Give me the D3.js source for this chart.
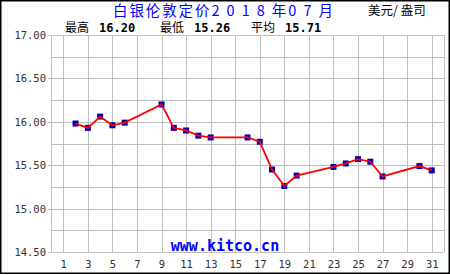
<!DOCTYPE html>
<html>
<head>
<meta charset="utf-8">
<script src="https://cdn.jsdelivr.net/npm/d3@7"></script>
<style>
  body { margin: 0; background: #fff; }
  svg { display: block; }
</style>
</head>
<body>
<div id="chart"></div>
<script>
// silver London fix, July 2018 (USD / oz)
const days = [2, 3, 4, 5, 6, 9, 10, 11, 12, 13, 16, 17, 18, 19, 20, 23, 24, 25, 26, 27, 30, 31];
const prices = [15.98, 15.93, 16.06, 15.96, 15.99, 16.20, 15.93, 15.90, 15.84, 15.82, 15.82,
  15.77, 15.45, 15.26, 15.38, 15.48, 15.52, 15.57, 15.54, 15.37, 15.49, 15.44];
const xTicks = d3.range(1, 32, 2);
const yTicks = [14.5, 15, 15.5, 16, 16.5, 17];
const yGrid = d3.range(14.5, 17.01, 0.25);

const title = '白银伦敦定价2 0 1 8 年0 7 月';
const unit = '美元/ 盎司';
const statLabels = ['最高', '最低', '平均'];

const width = 450;
const height = 275;
const mono = '"DejaVu Sans Mono", "Liberation Mono", monospace';
const cjk = '"Noto Sans CJK SC", sans-serif';

const svg = d3.select('#chart').append('svg')
  .attr('width', width)
  .attr('height', height);

const x = d3.scaleLinear().domain([0, 32]).range([51, 444]);
const y = d3.scaleLinear().domain([14.5, 17]).range([252, 35]);

// outer frame
svg.append('rect')
  .attr('x', 0.75).attr('y', 0.75)
  .attr('width', width - 1.5).attr('height', height - 2.5)
  .attr('fill', '#fff')
  .attr('stroke', '#000')
  .attr('stroke-width', 1.5);

// grid
const grid = svg.append('g').attr('stroke', '#c0c0c0').attr('stroke-width', 1);
grid.selectAll('line.h').data(yGrid).join('line')
  .attr('class', 'h')
  .attr('x1', x(0)).attr('x2', x(32))
  .attr('y1', d => Math.round(y(d)) + 0.5).attr('y2', d => Math.round(y(d)) + 0.5);
grid.selectAll('line.v').data(xTicks.concat([0, 32])).join('line')
  .attr('class', 'v')
  .attr('y1', y(17)).attr('y2', y(14.5))
  .attr('x1', d => Math.round(x(d)) + 0.5).attr('x2', d => Math.round(x(d)) + 0.5);
grid.selectAll('line.t').data(yTicks).join('line')
  .attr('class', 't')
  .attr('x1', x(0) - 3).attr('x2', x(0))
  .attr('y1', d => Math.round(y(d)) + 0.5).attr('y2', d => Math.round(y(d)) + 0.5);

// axis labels
svg.append('g').selectAll('text').data(yTicks).join('text')
  .attr('x', 46)
  .attr('y', d => y(d) + 4)
  .attr('text-anchor', 'end')
  .attr('font-family', mono)
  .attr('font-size', 10.5)
  .attr('fill', '#333')
  .text(d => d3.format('.2f')(d));

svg.append('g').selectAll('text').data(xTicks).join('text')
  .attr('x', d => x(d) + 0.5)
  .attr('y', 268)
  .attr('text-anchor', 'middle')
  .attr('font-family', mono)
  .attr('font-size', 10.5)
  .attr('fill', '#333')
  .text(d => d);

// watermark
svg.append('text')
  .attr('x', 225)
  .attr('y', 251)
  .attr('text-anchor', 'middle')
  .attr('font-family', mono)
  .attr('font-weight', 'bold')
  .attr('font-size', 15)
  .attr('fill', '#0000ff')
  .text('www.kitco.cn');

// title + unit
svg.append('text')
  .attr('x', 113)
  .attr('y', 15.5)
  .attr('font-family', cjk)
  .attr('font-size', 14.5)
  .attr('fill', '#0000ff')
  .attr('textLength', 220)
  .attr('lengthAdjust', 'spacing')
  .text(title);

svg.append('text')
  .attr('x', 368)
  .attr('y', 15)
  .attr('font-family', cjk)
  .attr('font-size', 12.5)
  .attr('fill', '#000')
  .text(unit);

// stats line
const stats = [d3.max(prices), d3.min(prices), d3.mean(prices)];
const statX = [65, 160, 251];
statLabels.forEach((label, i) => {
  svg.append('text')
    .attr('x', statX[i]).attr('y', 31.5)
    .attr('font-family', cjk)
    .attr('font-size', 12)
    .text(label);
  svg.append('text')
    .attr('x', statX[i] + 34).attr('y', 31.5)
    .attr('font-family', mono)
    .attr('font-weight', 'bold')
    .attr('font-size', 12)
    .text(stats[i].toFixed(2));
});

// series
const pts = days.map((d, i) => [x(d), y(prices[i])]);

svg.append('g').selectAll('rect').data(pts).join('rect')
  .attr('x', d => d[0] - 3)
  .attr('y', d => d[1] - 3)
  .attr('width', 6)
  .attr('height', 6)
  .attr('fill', '#0000b0');

svg.append('path')
  .attr('d', d3.line()(pts))
  .attr('fill', 'none')
  .attr('stroke', '#ff0000')
  .attr('stroke-width', 1.8);
</script>
</body>
</html>
